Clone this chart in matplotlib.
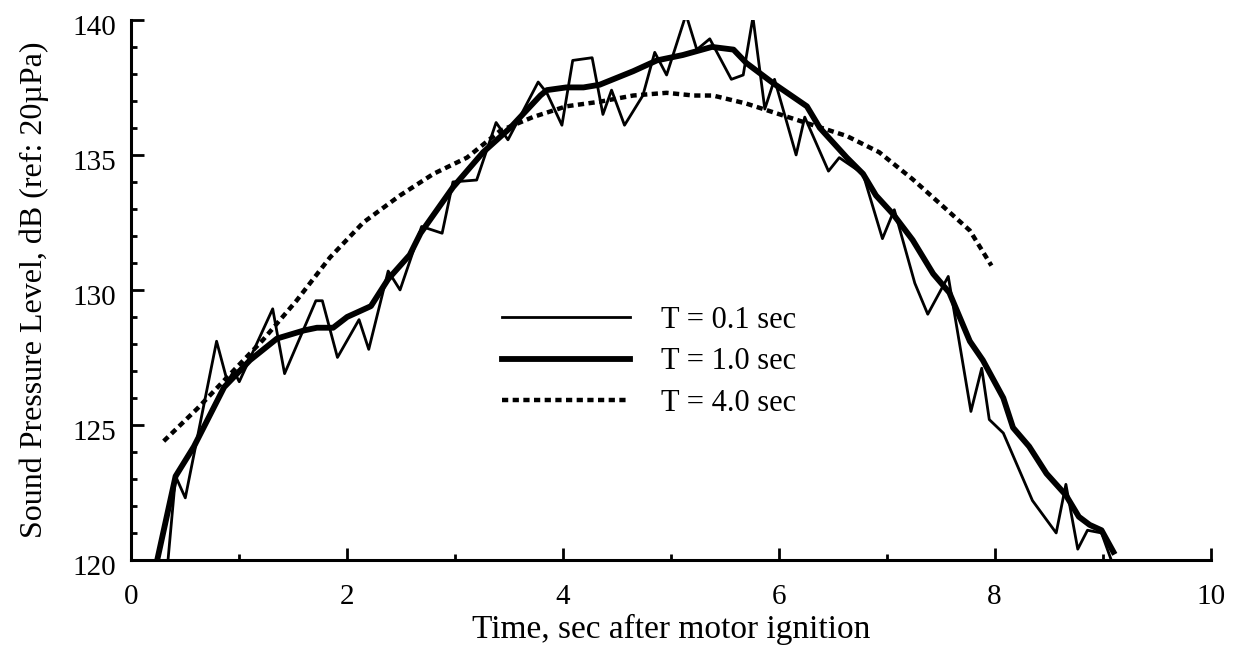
import matplotlib
matplotlib.use("Agg")
import matplotlib.pyplot as plt
import matplotlib.transforms as mtransforms
from matplotlib.ticker import MultipleLocator

plt.rcParams["font.family"] = ["Liberation Serif", "DejaVu Serif"]

# T = 0.1 sec (thin, jagged)
t01_x = [0.34, 0.41, 0.50, 0.79, 0.89, 0.95, 1.00, 1.31, 1.42, 1.71, 1.77, 1.91,
         2.11, 2.20, 2.38, 2.49, 2.69, 2.88, 2.98, 3.20, 3.38, 3.49, 3.77, 3.85,
         3.99, 4.09, 4.27, 4.37, 4.45, 4.57, 4.74, 4.85, 4.96, 5.14, 5.24, 5.36,
         5.56, 5.67, 5.76, 5.87, 5.96, 6.16, 6.24, 6.46, 6.56, 6.78, 6.96, 7.07,
         7.26, 7.38, 7.57, 7.78, 7.88, 7.95, 8.08, 8.35, 8.57, 8.66, 8.77, 8.86,
         8.99, 9.08]
t01_y = [120.0, 123.1, 122.3, 128.1, 126.6, 127.0, 126.6, 129.3, 126.9, 129.6, 129.6, 127.5,
         128.9, 127.8, 130.7, 130.0, 132.35, 132.1, 134.0, 134.07, 136.2, 135.56, 137.7, 137.3,
         136.1, 138.5, 138.6, 136.5, 137.4, 136.1, 137.2, 138.8, 137.96, 140.2, 138.9, 139.3,
         137.8, 137.96, 140.1, 136.7, 137.8, 135.0, 136.4, 134.4, 134.9, 134.3, 131.9, 132.97,
         130.25, 129.1, 130.5, 125.5, 127.1, 125.2, 124.7, 122.2, 121.0, 122.8, 120.4, 121.1,
         121.0, 120.0]

# T = 1.0 sec (thick)
t10_x = [0.24, 0.41, 0.58, 0.86, 1.10, 1.35, 1.60, 1.72, 1.87, 2.00, 2.22, 2.38,
         2.58, 2.68, 2.98, 3.26, 3.51, 3.79, 3.85, 4.03, 4.19, 4.34, 4.65, 4.87,
         5.11, 5.38, 5.58, 5.70, 5.95, 6.26, 6.38, 6.63, 6.78, 6.90, 7.06, 7.24,
         7.43, 7.58, 7.77, 7.89, 8.08, 8.17, 8.32, 8.48, 8.66, 8.78, 8.88, 8.99, 9.10]
t10_y = [120.0, 123.1, 124.2, 126.4, 127.4, 128.2, 128.5, 128.6, 128.6, 129.0, 129.4, 130.4,
         131.3, 132.1, 133.8, 135.1, 136.0, 137.2, 137.4, 137.5, 137.5, 137.6, 138.1, 138.5,
         138.7, 139.0, 138.9, 138.4, 137.65, 136.8, 136.0, 134.9, 134.3, 133.5, 132.8, 131.85,
         130.6, 129.9, 128.1, 127.4, 126.0, 124.9, 124.2, 123.2, 122.4, 121.6, 121.3, 121.1, 120.3]

# T = 4.0 sec (dotted)
t40_x = [0.30, 0.61, 0.92, 1.22, 1.53, 1.84, 2.15, 2.49, 2.80, 3.11, 3.42, 3.72,
         4.03, 4.34, 4.65, 4.96, 5.21, 5.39, 5.70, 6.01, 6.32, 6.63, 6.93, 7.24,
         7.52, 7.77, 7.97]
t40_y = [124.4, 125.6, 126.9, 128.15, 129.6, 131.2, 132.5, 133.5, 134.3, 134.9, 135.9, 136.4,
         136.8, 136.97, 137.2, 137.3, 137.2, 137.2, 136.9, 136.5, 136.1, 135.7, 135.1, 134.1,
         133.1, 132.2, 130.9]

fig = plt.figure(figsize=(12.39, 6.53), dpi=100)
ax = fig.add_axes([0.106, 0.1425, 0.871, 0.827])

ax.plot(t01_x, t01_y, color="black", linewidth=2.0, label="T = 0.1 sec")
ax.plot(t10_x, t10_y, color="black", linewidth=4.2, label="T = 1.0 sec")
ax.plot(t40_x, t40_y, color="black", linewidth=3.2, linestyle=(0, (1.4, 1.0)),
        label="T = 4.0 sec")

ax.set_xlim(0, 10)
ax.set_ylim(120, 140)
ax.xaxis.set_major_locator(MultipleLocator(2))
ax.xaxis.set_minor_locator(MultipleLocator(1))
ax.yaxis.set_major_locator(MultipleLocator(5))
ax.yaxis.set_minor_locator(MultipleLocator(1))
ax.tick_params(which="both", direction="in", width=2, labelsize=21)
ax.tick_params(which="major", length=9)
ax.tick_params(which="minor", length=4.5)
ax.tick_params(axis="x", which="major", pad=17)
ax.tick_params(axis="y", which="major", pad=11)
ax.spines[["top", "right"]].set_visible(False)
ax.spines[["left", "bottom"]].set_linewidth(2.2)

# y tick labels sit a little below their ticks in the original
shift = mtransforms.ScaledTranslation(0, -0.05, fig.dpi_scale_trans)
for lab in ax.get_yticklabels():
    lab.set_transform(lab.get_transform() + shift)

ax.set_xlabel("Time, sec after motor ignition", fontsize=24, labelpad=3)
ax.set_ylabel("Sound Pressure Level, dB (ref: 20\u00b5Pa)", fontsize=23, labelpad=17)

ax.legend(loc="upper left", bbox_to_anchor=(0.3435, 0.47), frameon=False,
          fontsize=22, handlelength=4.2, handletextpad=1.0, labelspacing=0.4,
          borderpad=0, borderaxespad=0)

fig.savefig("out.png", dpi=100)
